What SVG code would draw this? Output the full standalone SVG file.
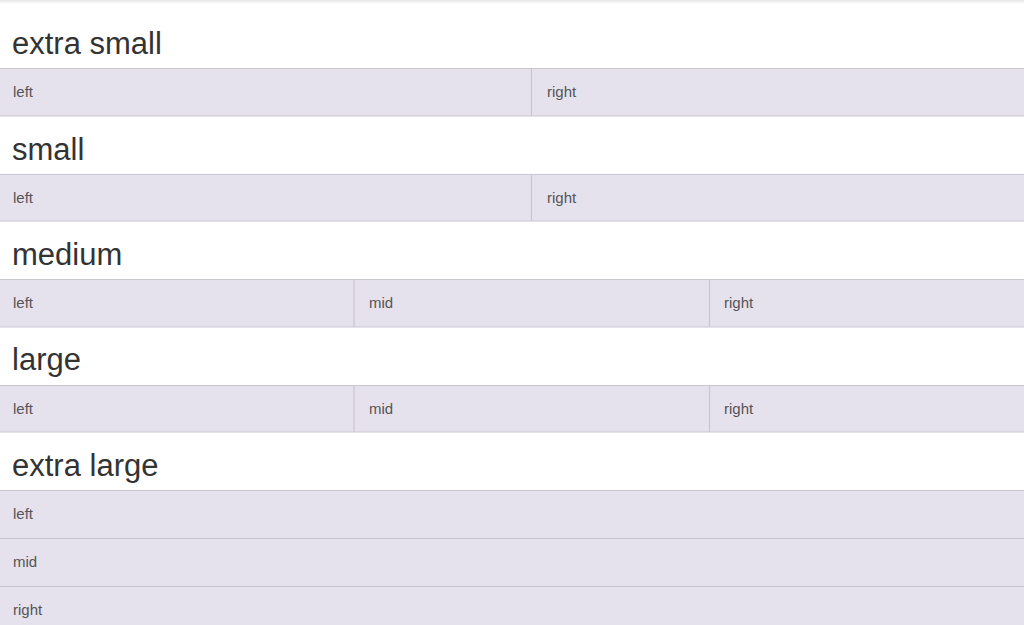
<svg xmlns="http://www.w3.org/2000/svg" width="1024" height="625" viewBox="0 0 1024 625">
<defs>
<linearGradient id="sh" x1="0" y1="0" x2="0" y2="1">
<stop offset="0" stop-color="#e6e6e6"/>
<stop offset="1" stop-color="#ffffff"/>
</linearGradient>
</defs>
<style>
.h{font-family:"Liberation Sans",Arial,sans-serif;font-size:31px;fill:#333}
.t{font-family:"Liberation Sans",Arial,sans-serif;font-size:15px;fill:#555}
.row{fill:#e5e1ed}
.bd{stroke:#c9c5d1;stroke-width:1.2}
</style>
<rect width="1024" height="625" fill="#fff"/>
<rect x="0" y="0" width="1024" height="4" fill="url(#sh)"/>
<g id="xs">
<text class="h" x="12" y="54">extra small</text>
<rect class="row" x="0" y="68" width="1024" height="48"/>
<line class="bd" x1="0" y1="68.5" x2="1024" y2="68.5"/>
<line class="bd" x1="0" y1="116" x2="1024" y2="116"/>
<line class="bd" x1="531.5" y1="68" x2="531.5" y2="116"/>
<text class="t" x="13" y="97">left</text>
<text class="t" x="547" y="97">right</text>
</g>
<g id="sm">
<text class="h" x="12" y="160">small</text>
<rect class="row" x="0" y="174" width="1024" height="47"/>
<line class="bd" x1="0" y1="174.5" x2="1024" y2="174.5"/>
<line class="bd" x1="0" y1="221" x2="1024" y2="221"/>
<line class="bd" x1="531.5" y1="174" x2="531.5" y2="221"/>
<text class="t" x="13" y="203">left</text>
<text class="t" x="547" y="203">right</text>
</g>
<g id="md">
<text class="h" x="12" y="265">medium</text>
<rect class="row" x="0" y="279" width="1024" height="48"/>
<line class="bd" x1="0" y1="279.5" x2="1024" y2="279.5"/>
<line class="bd" x1="0" y1="327" x2="1024" y2="327"/>
<line class="bd" x1="354" y1="279" x2="354" y2="327"/>
<line class="bd" x1="709.5" y1="279" x2="709.5" y2="327"/>
<text class="t" x="13" y="308">left</text>
<text class="t" x="369" y="308">mid</text>
<text class="t" x="724" y="308">right</text>
</g>
<g id="lg">
<text class="h" x="12" y="370">large</text>
<rect class="row" x="0" y="385" width="1024" height="47"/>
<line class="bd" x1="0" y1="385.5" x2="1024" y2="385.5"/>
<line class="bd" x1="0" y1="432" x2="1024" y2="432"/>
<line class="bd" x1="354" y1="385" x2="354" y2="432"/>
<line class="bd" x1="709.5" y1="385" x2="709.5" y2="432"/>
<text class="t" x="13" y="414">left</text>
<text class="t" x="369" y="414">mid</text>
<text class="t" x="724" y="414">right</text>
</g>
<g id="xl">
<text class="h" x="12" y="476">extra large</text>
<rect class="row" x="0" y="490" width="1024" height="135"/>
<line class="bd" x1="0" y1="490.5" x2="1024" y2="490.5"/>
<line class="bd" x1="0" y1="538.5" x2="1024" y2="538.5"/>
<line class="bd" x1="0" y1="586.5" x2="1024" y2="586.5"/>
<text class="t" x="13" y="519">left</text>
<text class="t" x="13" y="567">mid</text>
<text class="t" x="13" y="615">right</text>
</g>
<g id="connectors"/>
</svg>
